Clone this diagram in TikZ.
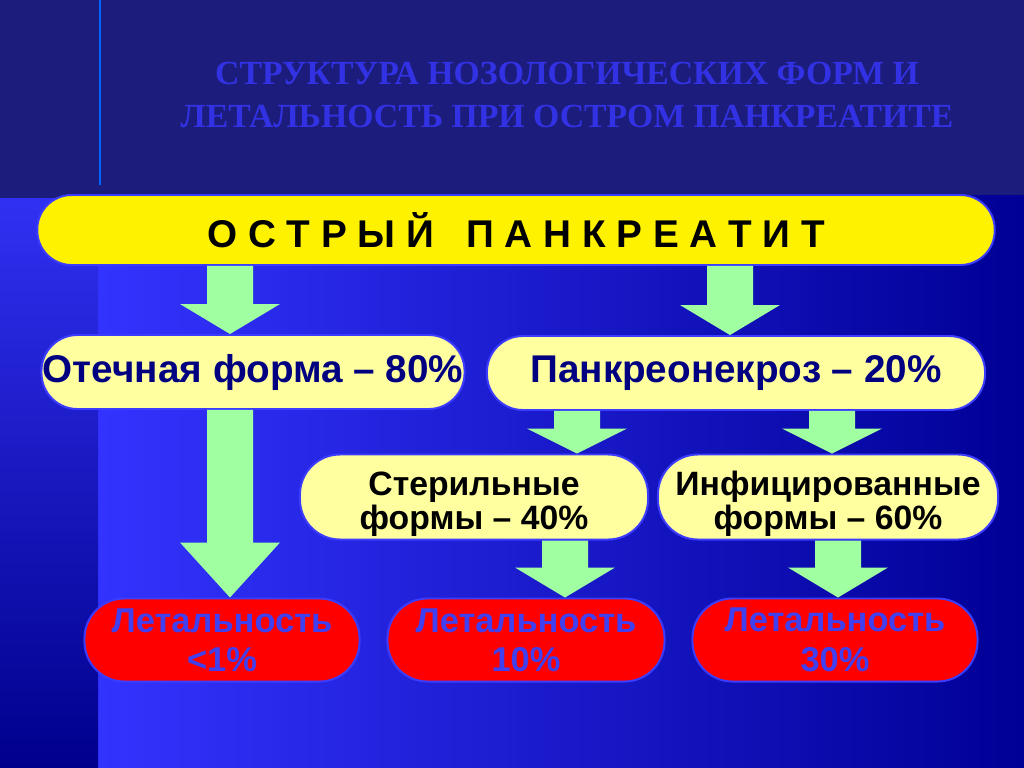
\documentclass[tikz,border=0pt]{standalone}
\usepackage{fontspec}
\setmainfont{Liberation Sans}
\newfontfamily\titlefont{Liberation Serif}
\usepackage{tikz}
\usetikzlibrary{calc}
\definecolor{bgtop}{RGB}{28,28,124}
\definecolor{bgleft}{RGB}{51,51,255}
\definecolor{bgright}{RGB}{0,0,150}
\definecolor{stripbot}{RGB}{0,0,140}
\definecolor{edgeblue}{RGB}{60,60,255}
\definecolor{titleblue}{RGB}{50,50,228}
\definecolor{paleyellow}{RGB}{255,255,160}
\definecolor{arrowgreen}{RGB}{160,255,160}
\definecolor{redtext}{RGB}{64,64,240}
\definecolor{navytext}{RGB}{0,0,128}
\tikzstyle{heading} = [align=center, text=titleblue, font=\titlefont\bfseries\fontsize{24}{30}\selectfont]
\tikzstyle{mainbox} = [rectangle, rounded corners=0.86cm, inner sep=0pt, minimum width=23.93cm, minimum height=1.75cm, text centered, draw=edgeblue, line width=1.4pt, fill=yellow, font=\bfseries\fontsize{27.5}{32}\selectfont]
\tikzstyle{formbox} = [rectangle, rounded corners=0.9cm, inner sep=0pt, minimum height=1.85cm, text centered, draw=edgeblue, line width=1.4pt, fill=paleyellow, text=navytext, font=\bfseries\fontsize{27.5}{32}\selectfont]
\tikzstyle{subbox} = [rectangle, rounded corners=1cm, inner sep=0pt, minimum height=2.125cm, align=center, draw=edgeblue, line width=1.4pt, fill=paleyellow, font=\bfseries\fontsize{24}{24.5}\selectfont]
\tikzstyle{deathbox} = [rectangle, rounded corners=1cm, inner sep=0pt, minimum height=2.075cm, align=center, draw=edgeblue, line width=1.4pt, fill=red, text=redtext, font=\bfseries\fontsize{24.5}{28}\selectfont]
\tikzstyle{fatarrow} = [fill=arrowgreen]
\newcommand{\lowstrut}{\rule{0pt}{27pt}}
% block arrow: x position, from node, to node, head start above tip
\newcommand{\blockarrow}[4]{%
  \coordinate (ba-s) at (#2.south -| #1,0);
  \coordinate (ba-e) at (#3.north -| #1,0);
  \fill[fatarrow] ($(ba-s)+(-23,0)$) -- ($(ba-s)+(23,0)$) -- ($(ba-e)+(23,-#4)$) -- ($(ba-e)+(50,-#4)$) -- (ba-e) -- ($(ba-e)+(-50,-#4)$) -- ($(ba-e)+(-23,-#4)$) -- cycle;
}
\begin{document}
\begin{tikzpicture}[x=0.025cm, y=-0.025cm]
            \useasboundingbox (0,0) rectangle (1024,768);
            % background
            \fill[bgtop] (0,0) rectangle (1024,768);
            \shade[left color=bgleft, right color=bgright] (98,195) rectangle (1024,768);
            \shade[top color=bgleft!95!black, bottom color=stripbot] (0,198) rectangle (98,768);
            \draw[blue!60!cyan, line width=1pt] (100,0) -- (100,185);
            \node (title) [heading] at (567,95) {СТРУКТУРА НОЗОЛОГИЧЕСКИХ ФОРМ И\\ЛЕТАЛЬНОСТЬ ПРИ ОСТРОМ ПАНКРЕАТИТЕ};
            \node (start) [mainbox] at (516,230) {О С Т Р Ы Й \ \ П А Н К Р Е А Т И Т};
            \node (s1) [formbox, minimum width=10.575cm] at (253,372) {Отечная форма – 80\%};
            \node (s2) [formbox, minimum width=12.45cm] at (736,373) {Панкреонекроз – 20\%};
            \node (s3a) [subbox, minimum width=8.7cm] at (474,497) {\lowstrut Стерильные\\ формы – 40\%};
            \node (s3b) [subbox, minimum width=8.5cm] at (828,497) {\lowstrut Инфицированные\\формы – 60\%};
            \node (end1) [deathbox, minimum width=6.875cm] at (222,640) {Летальность\\<1\%};
            \node (end2) [deathbox, minimum width=6.925cm] at (526,640) {Летальность\\10\%};
            \node (end3) [deathbox, minimum width=7.125cm] at (835,640) {Летальность\\30\%};
            \blockarrow{230}{start}{s1}{30}
            \blockarrow{730}{start}{s2}{30}
            \blockarrow{230}{s1}{end1}{55}
            \blockarrow{577}{s2}{s3a}{25}
            \blockarrow{832}{s2}{s3b}{25}
            \blockarrow{565}{s3a}{end2}{30}
            \blockarrow{838}{s3b}{end3}{30}
            \end{tikzpicture}
\end{document}
